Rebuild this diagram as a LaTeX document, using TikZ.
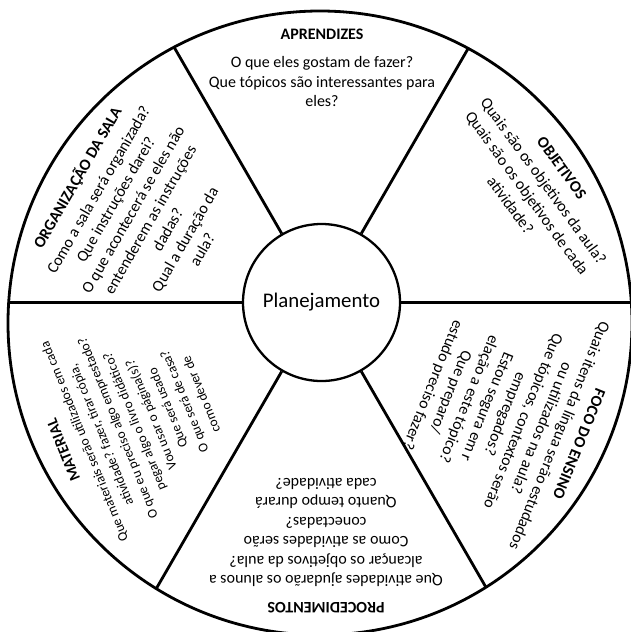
\documentclass[tikz,border=0pt]{standalone}
\usepackage{fontspec}
\setmainfont{Carlito}
\tikzset{
  rim/.style={line width=2.8pt},
  hub/.style={circle, draw, line width=2.3pt, fill=white, minimum size=157pt, inner sep=0pt, font=\fontsize{20.8}{25}\selectfont},
  sector/.style={align=center, inner sep=0pt, font=\fontsize{16}{19.5}\selectfont},
}
\begin{document}
\begin{tikzpicture}[x=1pt,y=-1pt]
            \useasboundingbox (0,0) rectangle (631,632);
            \clip (0,0) rectangle (631,632);
            \draw[rim] (320,323) circle [radius=312];
            \node[hub] (plan) at (321.5,302.5) {Planejamento};
            \coordinate (rimA) at (632,302.5);
            \coordinate (rimB) at (468.2,48.4);
            \coordinate (rimC) at (174.1,47.2);
            \coordinate (rimD) at (8.7,302.5);
            \coordinate (rimE) at (156.3,588.6);
            \coordinate (rimF) at (485.9,587.2);
            \draw[rim] (plan.0) -- (rimA);
            \draw[rim] (plan.60) -- (rimB);
            \draw[rim] (plan.120) -- (rimC);
            \draw[rim] (plan.180) -- (rimD);
            \draw[rim] (plan.240) -- (rimE);
            \draw[rim] (plan.300) -- (rimF);
            \node[sector] (learners) at (322,68) {\textbf{APRENDIZES}\\[9pt]
                 O que eles gostam de fazer?\\ Que tópicos são interessantes para\\ eles?};
            \node[sector,rotate=-54,font=\fontsize{16}{20.5}\selectfont] (goals) at (536,186.5) {\textbf{OBJETIVOS}\\[2pt]
                 Quais são os objetivos da aula?\\ Quais são os objetivos de cada\\ atividade?};
            \node[sector,rotate=60,font=\fontsize{16}{20}\selectfont] (room) at (139,213) {\textbf{ORGANIZAÇÃO DA SALA}\\[4pt]
                 Como a sala será organizada?\\ Que instruções darei?\\ O que acontecerá se eles não\\
                 entenderem as instruções\\ dadas?\\ Qual a duração da\\ aula?};
            \node[sector,rotate=112,font=\fontsize{13.5}{18}\selectfont] (stuff) at (132,422.5) {{\fontsize{15.5}{18}\selectfont\bfseries MATERIAL}\\[4pt]
                 Que materiais serão utilizados em cada\\ atividade? fazer, tirar cópia,\\
                 O que eu preciso algo emprestado?\\ pegar algo o livro didático?\\ Vou usar o página(s)?\\
                 Que será usado\\ O que será de casa?\\ como dever de};
            \node[sector,rotate=180] (steps) at (326,545.5) {\textbf{PROCEDIMENTOS}\\[7.5pt]
                 Que atividades ajudarão os alunos a\\ alcançar os objetivos da aula?\\
                 Como as atividades serão\\ conectadas?\\ Quanto tempo durará\\ cada atividade?};
            \node[sector,rotate=-112] (focus) at (505,414) {\textbf{FOCO DO ENSINO}\\[1.5pt]
                 Quais itens da língua serão estudados\\ ou utilizados na aula?\\ Que tópicos, contextos serão\\
                 empregados?\\ Estou segura em r\\ elação a este tópico?\\ Que preparo/\\ estudo preciso fazer?};
\end{tikzpicture}
\end{document}
